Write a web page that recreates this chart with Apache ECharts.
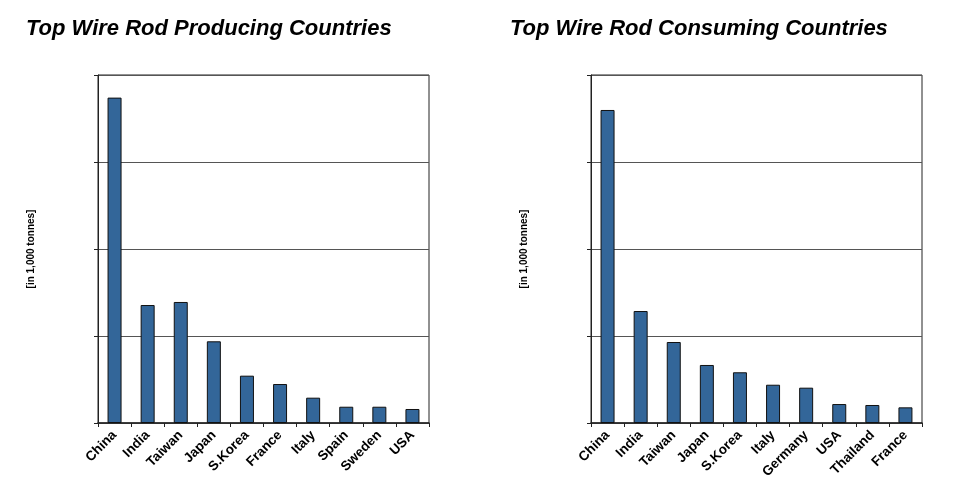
<!DOCTYPE html>
<html>
<head>
<meta charset="utf-8">
<script src="https://cdn.jsdelivr.net/npm/echarts@6/dist/echarts.min.js"></script>
<style>
  html, body { margin: 0; padding: 0; background: #fff; }
  #chart { width: 973px; height: 504px; }
</style>
</head>
<body>
<div id="chart"></div>
<script>
// producing countries (in 1,000 tonnes)
const prodCountries = ['China', 'India', 'Taiwan', 'Japan', 'S.Korea', 'France', 'Italy', 'Spain', 'Sweden', 'USA']
const prodValues = [37400, 13560, 13910, 9390, 5440, 4480, 2910, 1870, 1870, 1610]

// consuming countries (in 1,000 tonnes)
const consCountries = ['China', 'India', 'Taiwan', 'Japan', 'S.Korea', 'Italy', 'Germany', 'USA', 'Thailand', 'France']
const consValues = [35980, 12870, 9310, 6670, 5830, 4400, 4060, 2180, 2070, 1800]

const yMax = 40000
const yStep = 10000

const chart = echarts.init(document.getElementById('chart'))

const titleStyle = {
  fontFamily: 'Liberation Sans, Arial, sans-serif',
  fontSize: 22,
  fontWeight: 'bold',
  fontStyle: 'italic',
  color: '#000'
}

const xAxisFor = (idx, data) => ({
  type: 'category',
  gridIndex: idx,
  data: data,
  axisLine: { lineStyle: { color: '#222', width: 1.5 } },
  axisTick: { show: true, length: 4, lineStyle: { color: '#222' } },
  axisLabel: {
    rotate: 45,
    interval: 0,
    margin: 10,
    color: '#000',
    fontFamily: 'Liberation Sans, Arial, sans-serif',
    fontWeight: 'bold',
    fontSize: 13.5
  }
})

const yAxisFor = idx => ({
  type: 'value',
  gridIndex: idx,
  min: 0,
  max: yMax,
  interval: yStep,
  name: '[in 1,000 tonnes]',
  nameLocation: 'middle',
  nameRotate: 90,
  nameGap: 62,
  nameTextStyle: {
    fontFamily: 'Liberation Sans, Arial, sans-serif',
    fontWeight: 'bold',
    fontSize: 10,
    color: '#000'
  },
  axisLine: { show: true, lineStyle: { color: '#222' } },
  axisTick: { show: true, length: 4, inside: false, lineStyle: { color: '#222' } },
  axisLabel: { show: false },
  splitLine: { show: true, lineStyle: { color: '#555', width: 1 } }
})

const barSeries = (idx, data) => ({
  type: 'bar',
  xAxisIndex: idx,
  yAxisIndex: idx,
  data: data,
  barWidth: 14,
  itemStyle: { color: '#336699', borderColor: '#111', borderWidth: 1 }
})

chart.setOption({
  animation: false,
  backgroundColor: '#fff',
  title: [
    { text: 'Top Wire Rod Producing Countries', left: 21, top: 13, textStyle: titleStyle },
    { text: 'Top Wire Rod Consuming Countries', left: 505, top: 13, textStyle: titleStyle }
  ],
  grid: [
    { left: 98, top: 75, width: 331, height: 348, show: true, borderColor: '#222', borderWidth: 1, containLabel: false },
    { left: 591, top: 75, width: 331, height: 348, show: true, borderColor: '#222', borderWidth: 1, containLabel: false }
  ],
  xAxis: [xAxisFor(0, prodCountries), xAxisFor(1, consCountries)],
  yAxis: [yAxisFor(0), yAxisFor(1)],
  series: [barSeries(0, prodValues), barSeries(1, consValues)]
})
</script>
</body>
</html>
